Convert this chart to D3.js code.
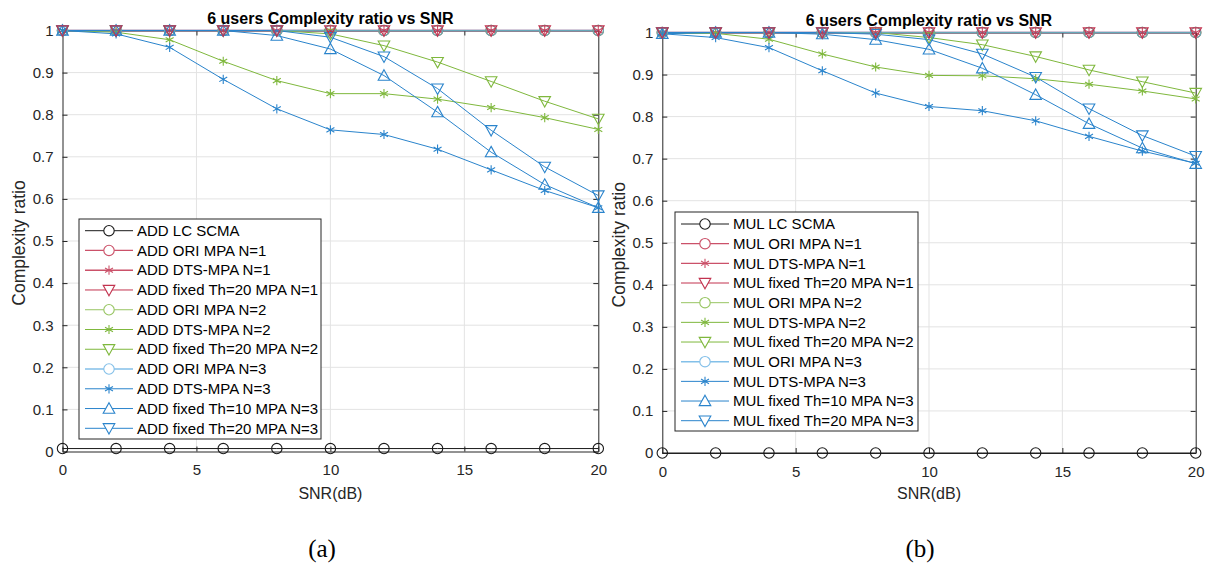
<!DOCTYPE html>
<html>
<head>
<meta charset="utf-8">
<script src="https://cdn.jsdelivr.net/npm/d3@7"></script>
<style>
  body { margin: 0; background: #fff; }
  svg { display: block; font-family: "Liberation Sans", Arial, sans-serif; }
</style>
</head>
<body>
<svg id="chart" width="1208" height="565"></svg>
<script>
// ---- data -------------------------------------------------------------
const snr = [0, 2, 4, 6, 8, 10, 12, 14, 16, 18, 20];
const xTicks = [0, 5, 10, 15, 20];
const yTicks = [0, 0.1, 0.2, 0.3, 0.4, 0.5, 0.6, 0.7, 0.8, 0.9, 1];
const yTickLabels = ["0", "0.1", "0.2", "0.3", "0.4", "0.5", "0.6", "0.7", "0.8", "0.9", "1"];
const titleText = "6 users Complexity ratio vs SNR";
const xLabelText = "SNR(dB)";
const yLabelText = "Complexity ratio";
const panelTags = ["(a)", "(b)"];

const addLabels = [
  "ADD LC SCMA", "ADD ORI MPA N=1", "ADD DTS-MPA N=1", "ADD fixed Th=20 MPA N=1",
  "ADD ORI MPA N=2", "ADD DTS-MPA N=2", "ADD fixed Th=20 MPA N=2",
  "ADD ORI MPA N=3", "ADD DTS-MPA N=3", "ADD fixed Th=10 MPA N=3", "ADD fixed Th=20 MPA N=3"
];
const mulLabels = [
  "MUL LC SCMA", "MUL ORI MPA N=1", "MUL DTS-MPA N=1", "MUL fixed Th=20 MPA N=1",
  "MUL ORI MPA N=2", "MUL DTS-MPA N=2", "MUL fixed Th=20 MPA N=2",
  "MUL ORI MPA N=3", "MUL DTS-MPA N=3", "MUL fixed Th=10 MPA N=3", "MUL fixed Th=20 MPA N=3"
];

// additions
const addLcScma   = [0.007, 0.007, 0.007, 0.007, 0.007, 0.007, 0.007, 0.007, 0.007, 0.007, 0.007];
const addOriN1    = [1, 1, 1, 1, 1, 1, 1, 1, 1, 1, 1];
const addDtsN1    = [1, 1, 1, 1, 1, 1, 1, 1, 1, 1, 1];
const addFix20N1  = [1, 1, 1, 1, 1, 1, 1, 1, 1, 1, 1];
const addOriN2    = [1, 1, 1, 1, 1, 1, 1, 1, 1, 1, 1];
const addDtsN2    = [1, 0.996, 0.978, 0.927, 0.881, 0.850, 0.850, 0.837, 0.817, 0.793, 0.765];
const addFix20N2  = [1, 1, 1, 1, 1, 0.992, 0.964, 0.925, 0.879, 0.832, 0.790];
const addOriN3    = [1, 1, 1, 1, 1, 1, 1, 1, 1, 1, 1];
const addDtsN3    = [1, 0.992, 0.960, 0.884, 0.814, 0.764, 0.753, 0.718, 0.669, 0.620, 0.579];
const addFix10N3  = [1, 1, 1, 1, 0.988, 0.956, 0.893, 0.806, 0.711, 0.634, 0.579];
const addFix20N3  = [1, 1, 1, 1, 1, 0.984, 0.938, 0.862, 0.763, 0.676, 0.608];

// multiplications
const mulLcScma   = [0, 0, 0, 0, 0, 0, 0, 0, 0, 0, 0];
const mulOriN1    = [1, 1, 1, 1, 1, 1, 1, 1, 1, 1, 1];
const mulDtsN1    = [1, 1, 1, 1, 1, 1, 1, 1, 1, 1, 1];
const mulFix20N1  = [1, 1, 1, 1, 1, 1, 1, 1, 1, 1, 1];
const mulOriN2    = [1, 1, 1, 1, 1, 1, 1, 1, 1, 1, 1];
const mulDtsN2    = [0.998, 0.998, 0.984, 0.949, 0.918, 0.898, 0.897, 0.890, 0.877, 0.861, 0.842];
const mulFix20N2  = [1, 1, 1, 1, 1, 0.988, 0.971, 0.943, 0.911, 0.883, 0.856];
const mulOriN3    = [1, 1, 1, 1, 1, 1, 1, 1, 1, 1, 1];
const mulDtsN3    = [0.997, 0.988, 0.964, 0.909, 0.856, 0.824, 0.814, 0.790, 0.753, 0.718, 0.689];
const mulFix10N3  = [0.997, 1, 1, 0.996, 0.983, 0.960, 0.915, 0.852, 0.783, 0.725, 0.688];
const mulFix20N3  = [1, 1, 1, 1, 0.996, 0.983, 0.949, 0.894, 0.819, 0.755, 0.706];

const addSeries = [addLcScma, addOriN1, addDtsN1, addFix20N1, addOriN2, addDtsN2, addFix20N2,
                   addOriN3, addDtsN3, addFix10N3, addFix20N3];
const mulSeries = [mulLcScma, mulOriN1, mulDtsN1, mulFix20N1, mulOriN2, mulDtsN2, mulFix20N2,
                   mulOriN3, mulDtsN3, mulFix10N3, mulFix20N3];

// ---- styles -----------------------------------------------------------
const RED = "#c2334f", GREEN = "#7fb83d", BLUE = "#2a84cc", LBLUE = "#5aabe2";
const styles = [
  { color: "#1a1a1a", marker: "circle", width: 1.0, opacity: 1 },
  { color: RED,   marker: "circle", width: 1.2, opacity: 0.85 },
  { color: RED,   marker: "star",   width: 1.4, opacity: 0.85 },
  { color: RED,   marker: "down",   width: 1.0, opacity: 1 },
  { color: GREEN, marker: "circle", width: 1.0, opacity: 0.8 },
  { color: GREEN, marker: "star",   width: 1.0, opacity: 1 },
  { color: GREEN, marker: "down",   width: 1.0, opacity: 1 },
  { color: LBLUE, marker: "circle", width: 1.5, opacity: 0.75 },
  { color: BLUE,  marker: "star",   width: 1.0, opacity: 1 },
  { color: BLUE,  marker: "up",     width: 1.0, opacity: 1 },
  { color: BLUE,  marker: "down",   width: 1.0, opacity: 1 }
];

const AXIS = "#262626";
const GRID = "#e3e3e3";

function markerPath(type) {
  const r = 5.2;
  if (type === "circle") return d3.symbol(d3.symbolCircle, Math.PI * r * r)();
  if (type === "up") { const h = 5.8; return `M0,${-h}L${h},${h * 0.8}L${-h},${h * 0.8}Z`; }
  if (type === "down") { const h = 5.8; return `M0,${h}L${h},${-h * 0.8}L${-h},${-h * 0.8}Z`; }
  // asterisk: vertical stroke plus two strokes at +/-30 degrees
  const a = 4.6, c = a * Math.cos(Math.PI / 6), s = a * Math.sin(Math.PI / 6);
  return `M0,${-a}L0,${a}M${-c},${-s}L${c},${s}M${-c},${s}L${c},${-s}`;
}

const svg = d3.select("#chart");

function drawPanel(cfg) {
  const x = d3.scaleLinear().domain([0, 20]).range([cfg.x0, cfg.x1]);
  const y = d3.scaleLinear().domain([0, 1]).range([cfg.y0, cfg.y1]);
  const g = svg.append("g");

  // grid
  g.append("g").selectAll("line").data(xTicks.slice(1, -1)).join("line")
    .attr("x1", d => x(d)).attr("x2", d => x(d)).attr("y1", cfg.y0).attr("y2", cfg.y1)
    .attr("stroke", GRID).attr("stroke-width", 1);
  g.append("g").selectAll("line").data(yTicks.slice(1, -1)).join("line")
    .attr("y1", d => y(d)).attr("y2", d => y(d)).attr("x1", cfg.x0).attr("x2", cfg.x1)
    .attr("stroke", GRID).attr("stroke-width", 1);

  // axes (ticks pointing inward on all four sides)
  const fmtY = d => yTickLabels[yTicks.indexOf(d)];
  const bottom = g.append("g").attr("transform", `translate(0,${cfg.y0})`)
    .call(d3.axisBottom(x).tickValues(xTicks).tickSizeInner(-5).tickSizeOuter(0).tickPadding(13));
  const top = g.append("g").attr("transform", `translate(0,${cfg.y1})`)
    .call(d3.axisTop(x).tickValues(xTicks).tickSizeInner(-5).tickSizeOuter(0).tickFormat(""));
  const left = g.append("g").attr("transform", `translate(${cfg.x0},0)`)
    .call(d3.axisLeft(y).tickValues(yTicks).tickFormat(fmtY).tickSizeInner(-5).tickSizeOuter(0).tickPadding(9));
  const right = g.append("g").attr("transform", `translate(${cfg.x1},0)`)
    .call(d3.axisRight(y).tickValues(yTicks).tickSizeInner(-5).tickSizeOuter(0).tickFormat(""));
  [bottom, top, left, right].forEach(a => {
    a.selectAll("path, line").attr("stroke", AXIS).attr("stroke-width", 1);
    a.selectAll("text").attr("fill", AXIS).attr("font-size", 15)
      .attr("font-family", "'Liberation Sans', Arial, sans-serif");
  });

  // series: all lines first in series order, markers above them
  const line = d3.line().x((d, i) => x(snr[i])).y(d => y(d));
  const markerLayers = [];
  const lineGroup = g.append("g");
  const markerGroup = g.append("g");
  cfg.series.forEach((vals, k) => {
    const st = styles[k];
    lineGroup.append("path").datum(vals).attr("d", line).attr("opacity", st.opacity)
      .attr("fill", "none").attr("stroke", st.color).attr("stroke-width", st.width);
    const mg = markerGroup.append("g").attr("opacity", st.opacity);
    mg.selectAll("path").data(vals).join("path")
      .attr("transform", (d, i) => `translate(${x(snr[i])},${y(d)})`)
      .attr("d", markerPath(st.marker))
      .attr("fill", "none").attr("stroke", st.color).attr("stroke-width", 1.1);
    markerLayers.push(mg);
  });
  markerLayers[3].raise();

  // title and axis labels
  g.append("text").attr("x", (cfg.x0 + cfg.x1) / 2).attr("y", cfg.y1 - 7)
    .attr("text-anchor", "middle").attr("font-size", 16).attr("font-weight", "bold")
    .attr("fill", "#000").text(titleText);
  g.append("text").attr("x", (cfg.x0 + cfg.x1) / 2).attr("y", 499)
    .attr("text-anchor", "middle").attr("font-size", 16).attr("fill", AXIS).text(xLabelText);
  g.append("text").attr("transform", `translate(${cfg.x0 - 37.5},${(cfg.y0 + cfg.y1) / 2 + 2}) rotate(-90)`)
    .attr("text-anchor", "middle").attr("font-size", 17.5).attr("fill", AXIS).text(yLabelText);

  // legend
  const L = cfg.legend;
  const lg = g.append("g");
  lg.append("rect").attr("x", L.x).attr("y", L.y).attr("width", L.w).attr("height", L.h)
    .attr("fill", "#fff").attr("stroke", AXIS).attr("stroke-width", 1);
  cfg.labels.forEach((lab, k) => {
    const st = styles[k];
    const cy = L.row0 + k * L.step;
    const e = lg.append("g").attr("opacity", st.opacity);
    e.append("line").attr("x1", L.x + 6).attr("x2", L.x + 54).attr("y1", cy).attr("y2", cy)
      .attr("stroke", st.color).attr("stroke-width", st.width);
    e.append("path").attr("transform", `translate(${L.x + 30},${cy})`).attr("d", markerPath(st.marker))
      .attr("fill", "#fff").attr("stroke", st.color).attr("stroke-width", 1.1);
    lg.append("text").attr("x", L.x + 58).attr("y", cy + 5.2).attr("font-size", 15)
      .attr("fill", "#000").text(lab);
  });

  // panel tag
  svg.append("text").attr("x", cfg.tagX).attr("y", 557).attr("text-anchor", "middle")
    .attr("font-family", "'Liberation Serif', 'Times New Roman', serif").attr("font-size", 25)
    .attr("fill", "#000").text(cfg.tag);
}

drawPanel({
  x0: 62.5, x1: 598.3, y0: 451.5, y1: 30.5,
  series: addSeries, labels: addLabels, tag: panelTags[0], tagX: 322,
  legend: { x: 79, y: 219, w: 242, h: 220, row0: 230.7, step: 19.76 }
});
drawPanel({
  x0: 662.3, x1: 1195.7, y0: 453, y1: 32.5,
  series: mulSeries, labels: mulLabels, tag: panelTags[1], tagX: 920,
  legend: { x: 675, y: 212, w: 243, h: 219, row0: 224, step: 19.67 }
});
</script>
</body>
</html>
